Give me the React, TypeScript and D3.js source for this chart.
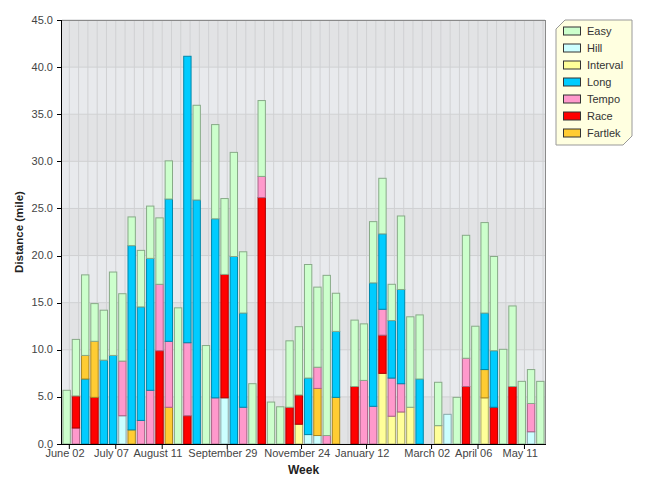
import * as d3 from 'd3'

// weekly training log, Sunday-start weeks from June 2 2013 to May 25 2014
const weekDates = d3.timeSunday.range(new Date(2013, 5, 2), new Date(2014, 4, 26))
const fmtKey = d3.timeFormat('%Y-%m-%d')
const fmtTick = d3.timeFormat('%B %d')
const weeks = weekDates.map(fmtKey)

const tickLabels = ['June 02', 'July 07', 'August 11', 'September 29', 'November 24', 'January 12', 'March 02', 'April 06', 'May 11']

const runTypes = ['Easy', 'Hill', 'Interval', 'Long', 'Tempo', 'Race', 'Fartlek']
const runFills = ['#ccffcc', '#ccffff', '#ffff99', '#00ccff', '#ff99cc', '#ff0000', '#ffcc33']
const runEdges = ['#88aa88', '#88aaaa', '#aaaa66', '#0088aa', '#aa6688', '#aa0000', '#aa8822']

// runs of each week, stacked bottom to top in the listed order (miles)
const weekRuns: [string, number][][] = [
	[['Easy', 5.7]],
	[['Tempo', 1.7], ['Race', 3.4], ['Easy', 6.0]],
	[['Long', 6.9], ['Fartlek', 2.5], ['Easy', 8.55]],
	[['Race', 4.95], ['Fartlek', 5.95], ['Easy', 4.0]],
	[['Long', 8.9], ['Easy', 5.3]],
	[['Long', 9.4], ['Easy', 8.85]],
	[['Hill', 3.0], ['Tempo', 5.8], ['Easy', 7.15]],
	[['Fartlek', 1.5], ['Long', 19.55], ['Easy', 3.05]],
	[['Tempo', 2.5], ['Long', 12.05], ['Easy', 6.0]],
	[['Tempo', 5.7], ['Long', 14.0], ['Easy', 5.55]],
	[['Race', 9.9], ['Tempo', 7.05], ['Easy', 7.05]],
	[['Fartlek', 3.9], ['Tempo', 7.0], ['Long', 15.1], ['Easy', 4.05]],
	[['Easy', 14.45]],
	[['Race', 3.0], ['Tempo', 7.75], ['Long', 30.4]],
	[['Long', 25.9], ['Easy', 10.05]],
	[['Easy', 10.45]],
	[['Tempo', 4.9], ['Long', 19.0], ['Easy', 10.0]],
	[['Hill', 4.9], ['Race', 13.1], ['Easy', 8.05]],
	[['Long', 19.9], ['Easy', 11.05]],
	[['Tempo', 3.9], ['Long', 10.0], ['Easy', 6.5]],
	[['Easy', 6.4]],
	[['Race', 26.15], ['Tempo', 2.25], ['Easy', 8.05]],
	[['Easy', 4.45]],
	[['Easy', 3.95]],
	[['Race', 3.9], ['Easy', 7.05]],
	[['Interval', 2.1], ['Race', 3.1], ['Easy', 7.25]],
	[['Hill', 1.0], ['Long', 6.0], ['Easy', 12.05]],
	[['Hill', 0.9], ['Fartlek', 5.0], ['Tempo', 2.25], ['Easy', 8.5]],
	[['Tempo', 0.9], ['Easy', 17.0]],
	[['Fartlek', 4.95], ['Long', 7.0], ['Easy', 4.05]],
	[],
	[['Race', 6.1], ['Easy', 7.05]],
	[['Tempo', 6.75], ['Easy', 6.0]],
	[['Tempo', 4.0], ['Long', 13.1], ['Easy', 6.5]],
	[['Interval', 7.5], ['Race', 4.05], ['Tempo', 2.75], ['Long', 8.0], ['Easy', 5.9]],
	[['Interval', 2.95], ['Tempo', 4.05], ['Long', 6.1], ['Easy', 3.85]],
	[['Interval', 3.4], ['Tempo', 3.0], ['Long', 10.0], ['Easy', 7.8]],
	[['Interval', 3.9], ['Easy', 9.6]],
	[['Long', 6.9], ['Easy', 6.8]],
	[],
	[['Interval', 1.95], ['Easy', 4.6]],
	[['Hill', 3.15]],
	[['Easy', 4.95]],
	[['Race', 6.1], ['Tempo', 3.0], ['Easy', 13.05]],
	[['Easy', 12.5]],
	[['Interval', 4.9], ['Fartlek', 3.0], ['Long', 6.0], ['Easy', 9.6]],
	[['Race', 3.9], ['Long', 6.0], ['Easy', 10.0]],
	[['Easy', 10.05]],
	[['Race', 6.1], ['Easy', 8.55]],
	[['Easy', 6.65]],
	[['Hill', 1.3], ['Tempo', 3.0], ['Easy', 3.6]],
	[['Easy', 6.65]],
]

const yTicks = [0, 5, 10, 15, 20, 25, 30, 35, 40, 45]

export default function App() {
	const width = 646
	const height = 481
	const plot = { left: 62, right: 545, top: 20, bottom: 444 }
	const font = '"Liberation Sans", Arial, sans-serif'

	const x = d3.scaleBand<string>().domain(weeks).range([plot.left, plot.right]).paddingInner(0.1).paddingOuter(0.05)
	const y = d3.scaleLinear().domain([0, 45]).range([plot.bottom, plot.top])
	const bw = x.bandwidth()
	// the date ticks sit a little right of each bar's centre
	const tickX = (key: string) => (x(key) ?? 0) + bw * 0.82

	const colorOf = d3.scaleOrdinal<string, string>().domain(runTypes).range(runFills)
	const edgeOf = d3.scaleOrdinal<string, string>().domain(runTypes).range(runEdges)

	const tickWeeks = tickLabels.map((label) => weeks[weekDates.findIndex((d) => fmtTick(d) === label)])

	const legendX = 556
	const legendY = 20
	const legendW = 76
	const legendH = 125
	const cut = 9

	return (
		<svg
			width={width}
			height={height}
			style={{ position: 'absolute', left: 0, top: 0, display: 'block', background: '#fff' }}
			fontFamily={font}
		>
			{/* plot background bands */}
			{yTicks.slice(0, -1).map((v) => (
				<rect
					key={`band-${v}`}
					x={plot.left}
					y={y(v + 5)}
					width={plot.right - plot.left}
					height={y(v) - y(v + 5)}
					fill={(v / 5) % 2 === 0 ? '#e2e3e5' : '#e8eaed'}
				/>
			))}
			{weeks.map((w) => (
				<line key={`vg-${w}`} x1={tickX(w)} x2={tickX(w)} y1={plot.top} y2={plot.bottom} stroke="#d0d1d3" />
			))}
			{yTicks.map((v) => (
				<line key={`hg-${v}`} x1={plot.left} x2={plot.right} y1={y(v)} y2={y(v)} stroke="#cfd0d2" />
			))}

			{/* stacked bars */}
			{weekRuns.map((runs, i) => {
				const key = weeks[i]
				let base = 0
				return (
					<g key={key}>
						{runs.map(([type, miles], j) => {
							const y0 = base
							base += miles
							return (
								<rect
									key={j}
									x={(x(key) ?? 0) + 0.5}
									y={y(base)}
									width={bw - 1}
									height={y(y0) - y(base)}
									fill={colorOf(type)}
									stroke={edgeOf(type)}
									strokeWidth={1}
								/>
							)
						})}
					</g>
				)
			})}

			{/* plot frame */}
			<line x1={plot.left} x2={plot.right} y1={plot.top + 0.5} y2={plot.top + 0.5} stroke="#8a8a8a" />
			<line x1={plot.right + 0.5} x2={plot.right + 0.5} y1={plot.top} y2={plot.bottom} stroke="#8a8a8a" />
			<line x1={plot.left - 0.5} x2={plot.left - 0.5} y1={plot.top} y2={plot.bottom + 1} stroke="#000" />
			<line x1={plot.left - 1} x2={plot.right + 1} y1={plot.bottom + 0.5} y2={plot.bottom + 0.5} stroke="#000" />

			{/* y axis */}
			{yTicks.map((v) => (
				<g key={`yt-${v}`}>
					<line x1={plot.left - 5} x2={plot.left} y1={Math.round(y(v)) + 0.5} y2={Math.round(y(v)) + 0.5} stroke="#000" />
					<text x={53} y={y(v) + 3.5} textAnchor="end" fontSize={11} fill="#444">
						{d3.format('.1f')(v)}
					</text>
				</g>
			))}

			{/* x axis */}
			{tickWeeks.map((w, i) => (
				<g key={`xt-${w}`}>
					<line x1={tickX(w)} x2={tickX(w)} y1={plot.bottom} y2={plot.bottom + 5} stroke="#000" />
					<text x={tickX(w) - 4.3} y={457} textAnchor="middle" fontSize={11} fill="#444">
						{tickLabels[i]}
					</text>
				</g>
			))}

			<text x={(plot.left + plot.right) / 2} y={474} textAnchor="middle" fontSize={12} fontWeight="bold" fill="#222">
				Week
			</text>
			<text
				transform={`translate(23, ${(plot.top + plot.bottom) / 2}) rotate(-90)`}
				textAnchor="middle"
				fontSize={11.5}
				fontWeight="bold"
				fill="#222"
			>
				Distance (mile)
			</text>

			{/* legend */}
			<path
				d={`M${legendX + cut},${legendY} H${legendX + legendW} V${legendY + legendH - cut} L${legendX + legendW - cut},${legendY + legendH} H${legendX} V${legendY + cut} Z`}
				fill="#ffffe0"
				stroke="#999"
			/>
			{runTypes.map((type, i) => (
				<g key={type} transform={`translate(${legendX + 7}, ${legendY + 10.5 + i * 17})`}>
					<rect x={0.5} y={-3.5} width={17} height={8} fill={colorOf(type)} stroke="#333" strokeWidth={1} />
					<text x={24} y={4} fontSize={11} fill="#333">
						{type}
					</text>
				</g>
			))}
		</svg>
	)
}
